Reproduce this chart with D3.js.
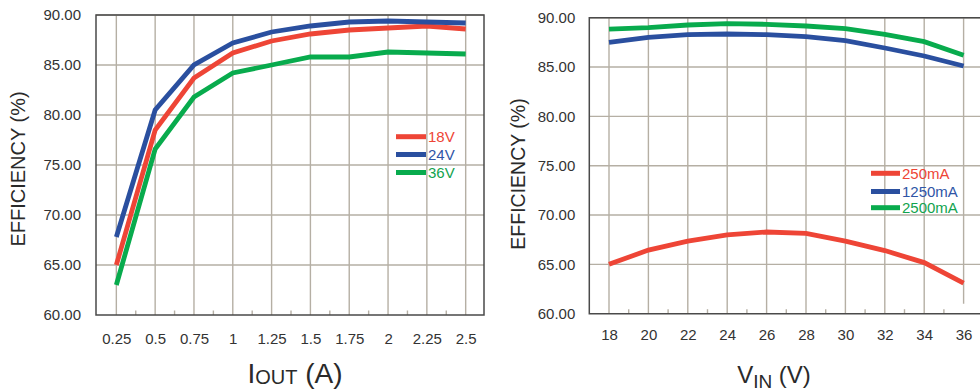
<!DOCTYPE html>
<html>
<head>
<meta charset="utf-8">
<script src="https://cdn.jsdelivr.net/npm/d3@7"></script>
<style>
  html, body { margin: 0; padding: 0; background: #fff; }
  svg { display: block; font-family: "Liberation Sans", Arial, Helvetica, sans-serif; }
</style>
</head>
<body>
<svg id="chart" width="980" height="391"></svg>
<script>
// ---------- DATA ----------
const yTicks = [60, 65, 70, 75, 80, 85, 90];

// Left chart: efficiency vs output current
const ioutValues = [0.25, 0.5, 0.75, 1, 1.25, 1.5, 1.75, 2, 2.25, 2.5];
const ioutLabels = ["0.25", "0.5", "0.75", "1", "1.25", "1.5", "1.75", "2", "2.25", "2.5"];
const ioutMinor = [0.375, 0.625, 0.875, 1.125, 1.375, 1.625, 1.875, 2.125, 2.375];
const eff18V = [65.0, 78.5, 83.7, 86.2, 87.4, 88.1, 88.5, 88.7, 88.9, 88.6];
const eff24V = [67.8, 80.5, 85.0, 87.2, 88.3, 88.9, 89.3, 89.4, 89.3, 89.2];
const eff36V = [63.0, 76.6, 81.8, 84.2, 85.0, 85.8, 85.8, 86.3, 86.2, 86.1];
const leftSeriesNames = ["18V", "24V", "36V"];

// Right chart: efficiency vs input voltage
const vinValues = [18, 20, 22, 24, 26, 28, 30, 32, 34, 36];
const vinLabels = ["18", "20", "22", "24", "26", "28", "30", "32", "34", "36"];
const vinMinor = [19, 21, 23, 25, 27, 29, 31, 33, 35];
const eff250mA = [65.0, 66.45, 67.35, 67.98, 68.28, 68.15, 67.35, 66.4, 65.18, 63.1];
const eff1250mA = [87.5, 88.0, 88.28, 88.35, 88.28, 88.08, 87.67, 86.93, 86.12, 85.1];
const eff2500mA = [88.85, 89.0, 89.26, 89.4, 89.33, 89.16, 88.9, 88.3, 87.57, 86.2];
const rightSeriesNames = ["250mA", "1250mA", "2500mA"];

// ---------- STYLE ----------
const colors = ["#ee4536", "#2a4f9f", "#08ab4d"];
const textColors = ["#ee4536", "#2f55a6", "#12a34e"];
const gridColor = "#b5afa4";
const frameColor = "#4a4a4a";
const tickTextColor = "#333";

const svg = d3.select("#chart");

function drawPanel(cfg) {
  const g = svg.append("g");
  const x = d3.scaleLinear().domain(cfg.xDomain).range(cfg.xRange);
  const y = d3.scaleLinear().domain([60, 90]).range(cfg.yRange);
  const [x0, x1] = cfg.xRange;
  const [yb, yt] = cfg.yRange;

  // horizontal grid
  g.append("g").selectAll("line").data(yTicks.slice(1)).join("line")
    .attr("x1", x0).attr("x2", x1)
    .attr("y1", d => y(d)).attr("y2", d => y(d))
    .attr("stroke", gridColor).attr("stroke-width", 1.4);

  // vertical grid
  g.append("g").selectAll("line").data(cfg.xValues).join("line")
    .attr("x1", d => x(d)).attr("x2", d => x(d))
    .attr("y1", yt)
    .attr("y2", (d, i) => (cfg.shortLastGrid && i === cfg.xValues.length - 1) ? y(61) : yb)
    .attr("stroke", gridColor).attr("stroke-width", 1.4);

  // minor ticks on bottom axis
  g.append("g").selectAll("line").data(cfg.minor).join("line")
    .attr("x1", d => x(d)).attr("x2", d => x(d))
    .attr("y1", yb).attr("y2", yb - 4.5)
    .attr("stroke", gridColor).attr("stroke-width", 1.4);

  // frame
  const frame = g.append("path")
    .attr("fill", "none").attr("stroke", frameColor).attr("stroke-width", 1.5);
  if (cfg.closedRight) {
    frame.attr("d", `M${x0},${yt}H${x1}V${yb}H${x0}Z`);
  } else {
    frame.attr("d", `M${x1},${yt}H${x0}V${yb}H${x1}`);
  }

  // y axis labels
  const yAxis = d3.axisLeft(y).tickValues(yTicks).tickFormat(d3.format(".2f"))
    .tickSize(0).tickPadding(cfg.yPad);
  const ya = g.append("g").attr("transform", `translate(${x0},0)`).call(yAxis);
  ya.select(".domain").remove();
  ya.selectAll("text").attr("font-size", 15).attr("fill", tickTextColor)
    .attr("font-family", "'Liberation Sans', Arial, sans-serif");

  // x axis labels
  const xAxis = d3.axisBottom(x).tickValues(cfg.xValues)
    .tickFormat((d, i) => cfg.xLabels[i]).tickSize(0).tickPadding(cfg.xPad);
  const xa = g.append("g").attr("transform", `translate(0,${yb})`).call(xAxis);
  xa.select(".domain").remove();
  xa.selectAll("text").attr("font-size", 15).attr("fill", tickTextColor)
    .attr("font-family", "'Liberation Sans', Arial, sans-serif");

  // lines
  const line = d3.line().x(d => x(d[0])).y(d => y(d[1]));
  cfg.series.forEach((s, i) => {
    g.append("path")
      .datum(cfg.xValues.map((xv, j) => [xv, s[j]]))
      .attr("fill", "none").attr("stroke", colors[i]).attr("stroke-width", 4.8)
      .attr("stroke-linejoin", "miter").attr("d", line);
  });

  // legend
  cfg.names.forEach((n, i) => {
    const ly = cfg.legendY[i];
    g.append("line").attr("x1", cfg.legendX[0]).attr("x2", cfg.legendX[1])
      .attr("y1", ly).attr("y2", ly).attr("stroke", colors[i]).attr("stroke-width", 5);
    g.append("text").attr("x", cfg.legendX[1] + 2).attr("y", ly + 5.2)
      .attr("font-size", 15).attr("fill", textColors[i]).text(n);
  });

  // y title
  g.append("text")
    .attr("transform", `translate(${cfg.yTitleX},${cfg.yTitleY}) rotate(-90)`)
    .attr("text-anchor", "middle").attr("font-size", cfg.yTitleSize)
    .attr("fill", "#2a2a2a").text("EFFICIENCY (%)");

  // x title with subscript
  const t = g.append("text").attr("x", cfg.xTitle.x).attr("y", cfg.xTitle.y)
    .attr("text-anchor", "middle").attr("font-size", cfg.xTitle.size).attr("fill", "#2a2a2a");
  t.append("tspan").text(cfg.xTitle.main);
  t.append("tspan").attr("font-size", cfg.xTitle.subSize).attr("dy", cfg.xTitle.subDy).text(cfg.xTitle.sub);
  t.append("tspan").attr("dy", -cfg.xTitle.subDy).text(" " + cfg.xTitle.rest);
}

drawPanel({
  xDomain: [0.119, 2.618], xRange: [96, 484], yRange: [315, 15],
  xValues: ioutValues, xLabels: ioutLabels, minor: ioutMinor,
  series: [eff18V, eff24V, eff36V], names: leftSeriesNames,
  legendX: [396, 426], legendY: [136.7, 154.5, 172.5],
  closedRight: true, yPad: 15, xPad: 18,
  yTitleX: 25, yTitleY: 169, yTitleSize: 20,
  xTitle: { x: 295, y: 382.5, size: 28, subSize: 20, subDy: 1, main: "I", sub: "OUT", rest: "(A)" }
});

drawPanel({
  xDomain: [17, 37], xRange: [589.3, 983.3], yRange: [313.7, 17.7],
  xValues: vinValues, xLabels: vinLabels, minor: vinMinor,
  series: [eff250mA, eff1250mA, eff2500mA], names: rightSeriesNames,
  legendX: [871, 900], legendY: [173.3, 191.5, 207.7],
  closedRight: false, shortLastGrid: true, yPad: 14, xPad: 16,
  yTitleX: 524.5, yTitleY: 174, yTitleSize: 19.5,
  xTitle: { x: 774, y: 382.5, size: 24, subSize: 19, subDy: 5, main: "V", sub: "IN", rest: "(V)" }
});
</script>
</body>
</html>
